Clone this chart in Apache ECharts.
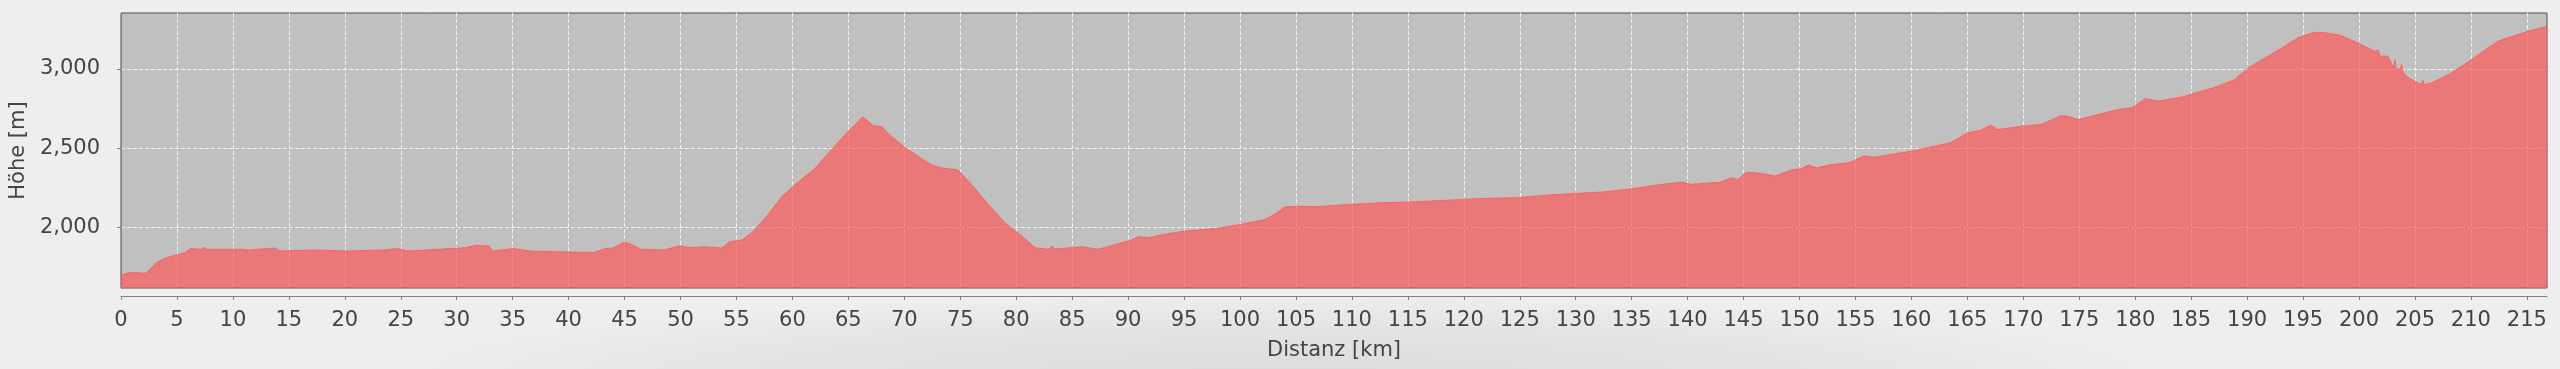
<!DOCTYPE html>
<html>
<head>
<meta charset="utf-8">
<script src="https://cdn.jsdelivr.net/npm/echarts@6/dist/echarts.min.js"></script>
<style>
html,body{margin:0;padding:0;background:#eeeeee;}
#c{width:2560px;height:369px;}
</style>
</head>
<body>
<div id="c"></div>
<script>
// Distance along route [km]
const distanceKm = [
  0.0, 0.7, 1.3, 2.2, 2.6, 3.2, 3.8, 5.0, 5.75, 6.2, 7.2, 7.4, 7.7, 10.8, 11.4, 13.8, 14.2, 17.4, 20.3, 23.3,
  24.8, 25.7, 29.3, 30.8, 31.7, 32.9, 33.2, 35.0, 36.7, 39.7, 42.2, 43.3, 44.0, 45.0, 45.6, 46.5, 48.6, 49.8, 51.0, 52.2,
  53.7, 54.4, 55.5, 56.4, 57.6, 59.1, 60.6, 62.0, 63.5, 65.0, 66.3, 67.2, 68.0, 68.9, 70.1, 71.9, 72.5, 73.3, 74.8, 76.0,
  77.5, 79.0, 80.5, 81.7, 82.9, 83.2, 83.4, 85.9, 87.3, 88.8, 90.3, 90.9, 91.8, 93.0, 95.1, 97.8, 100.1, 102.2, 103.1, 104.0,
  105.2, 106.7, 110.0, 112.6, 115.0, 120.0, 121.5, 124.6, 127.5, 130.1, 132.6, 135.0, 137.4, 139.5, 140.3, 143.0, 143.9, 144.5, 145.3, 146.6,
  147.8, 149.3, 150.2, 150.8, 151.5, 152.9, 154.4, 155.8, 156.7, 160.0, 161.5, 163.5, 165.0, 166.2, 167.1, 167.7, 169.8, 171.6, 173.4, 174.0,
  174.9, 176.7, 178.5, 179.7, 180.9, 182.1, 184.2, 187.1, 188.9, 190.1, 191.6, 193.1, 194.5, 196.0, 197.2, 198.4, 199.9, 201.4, 201.7, 201.9,
  202.6, 203.1, 203.2, 203.3, 203.7, 203.8, 203.9, 204.2, 205.0, 205.6, 205.7, 205.8, 206.5, 208.0, 209.4, 210.9, 212.4, 213.9, 215.1, 216.8
];
// Elevation [m]
const elevationM = [
  1700, 1717, 1717, 1713, 1738, 1780, 1805, 1830, 1843, 1868, 1864, 1876, 1864, 1864, 1860, 1872, 1853, 1860, 1853, 1860,
  1868, 1853, 1868, 1874, 1889, 1885, 1853, 1868, 1853, 1847, 1843, 1868, 1872, 1910, 1895, 1864, 1860, 1885, 1874, 1880,
  1872, 1912, 1922, 1969, 2063, 2199, 2293, 2372, 2493, 2608, 2698, 2644, 2635, 2572, 2503, 2419, 2394, 2377, 2363, 2273,
  2147, 2031, 1948, 1874, 1864, 1885, 1866, 1880, 1864, 1893, 1922, 1943, 1937, 1955, 1979, 1994, 2021, 2052, 2084, 2130,
  2136, 2132, 2147, 2157, 2161, 2178, 2184, 2189, 2205, 2216, 2226, 2245, 2270, 2287, 2273, 2287, 2314, 2304, 2350, 2342,
  2325, 2363, 2373, 2394, 2377, 2398, 2409, 2453, 2444, 2482, 2505, 2535, 2597, 2614, 2646, 2618, 2639, 2650, 2706, 2702,
  2681, 2713, 2744, 2755, 2813, 2797, 2824, 2883, 2933, 3006, 3069, 3132, 3195, 3231, 3226, 3210, 3163, 3111, 3120, 3080,
  3080, 3006, 3059, 3006, 2996, 3030, 2990, 2954, 2922, 2901, 2930, 2901, 2912, 2964, 3027, 3101, 3174, 3210, 3237, 3268
];
const xTicks = [0,5,10,15,20,25,30,35,40,45,50,55,60,65,70,75,80,85,90,95,100,105,110,115,120,125,130,135,140,145,150,155,160,165,170,175,180,185,190,195,200,205,210,215];
const yTicks = [2000, 2500, 3000];
const xLabel = 'Distanz [km]';
const yLabel = 'Höhe [m]';

const seriesData = distanceKm.map((d, i) => [d, elevationM[i]]);

const chart = echarts.init(document.getElementById('c'), null, {renderer: 'canvas'});
const font = 'DejaVu Sans';
chart.setOption({
  animation: false,
  backgroundColor: '#eeeeee',
  graphic: [{
    type: 'circle',
    z: -10,
    silent: true,
    x: 1280, y: 374,
    scaleX: 9, scaleY: 0.8,
    shape: {cx: 0, cy: 0, r: 100},
    style: {
      fill: new echarts.graphic.RadialGradient(0.5, 0.5, 0.5, [
        {offset: 0, color: 'rgba(0,0,0,0.08)'},
        {offset: 0.6, color: 'rgba(0,0,0,0.045)'},
        {offset: 1, color: 'rgba(0,0,0,0)'}
      ])
    }
  }],
  grid: {
    left: 121, right: 13, top: 13, bottom: 81,
    show: true,
    backgroundColor: '#c0c0c0',
    borderColor: '#505050',
    borderWidth: 1,
    outerBoundsMode: 'none'
  },
  xAxis: {
    type: 'value',
    min: 0, max: 216.8,
    offset: 8,
    name: xLabel,
    nameLocation: 'middle',
    nameGap: 44,
    nameTextStyle: {fontFamily: font, fontSize: 21, color: '#444'},
    axisLine: {show: true, onZero: false, lineStyle: {color: '#808080', width: 1}},
    axisTick: {show: true, length: 4, customValues: xTicks, lineStyle: {color: '#808080'}},
    axisLabel: {customValues: xTicks, margin: 14, fontFamily: font, fontSize: 21, color: '#444'},
    splitLine: {show: true, lineStyle: {color: '#f0f0f0', type: [4, 2], width: 1}}
  },
  yAxis: {
    type: 'value',
    min: 1620, max: 3352,
    offset: 8,
    name: yLabel,
    nameLocation: 'middle',
    nameRotate: 90,
    nameGap: 79,
    nameTextStyle: {fontFamily: font, fontSize: 21, color: '#444'},
    axisLine: {show: true, lineStyle: {color: '#808080', width: 1}},
    axisTick: {show: true, length: 4, customValues: yTicks, lineStyle: {color: '#808080'}},
    axisLabel: {
      customValues: yTicks, margin: 13, fontFamily: font, fontSize: 21, color: '#444',
      formatter: v => v.toLocaleString('en-US')
    },
    splitLine: {show: true, lineStyle: {color: '#f0f0f0', type: [4, 2], width: 1}}
  },
  series: [{
    type: 'line',
    data: seriesData,
    showSymbol: false,
    sampling: 'none',
    lineStyle: {color: '#ff5555', width: 1, opacity: 0.75},
    areaStyle: {color: '#ff5555', opacity: 0.67, origin: 'start'}
  }]
});
</script>
</body>
</html>
